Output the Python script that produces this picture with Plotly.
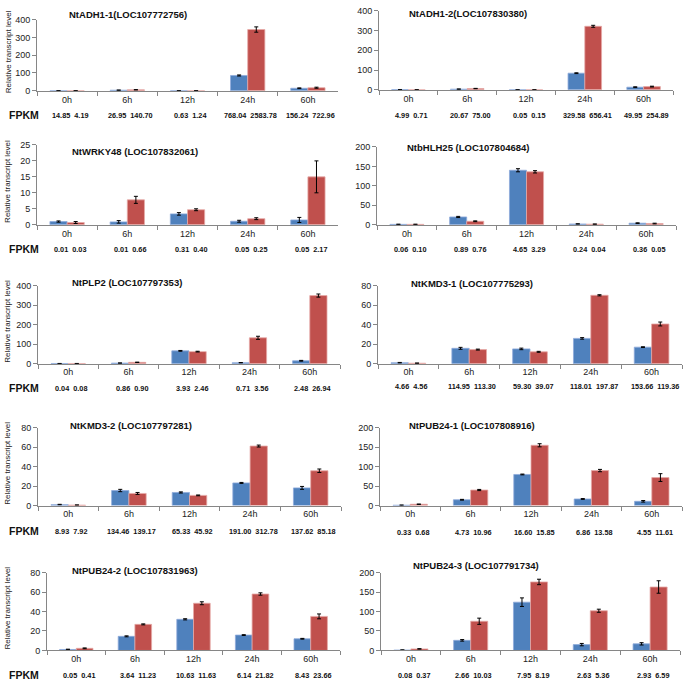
import plotly.graph_objects as go

W, H = 685, 686

times = ["0h", "6h", "12h", "24h", "60h"]

titles = [
    "NtADH1-1(LOC107772756)", "NtADH1-2(LOC107830380)",
    "NtWRKY48 (LOC107832061)", "NtbHLH25 (LOC107804684)",
    "NtPLP2 (LOC107797353)", "NtKMD3-1 (LOC107775293)",
    "NtKMD3-2 (LOC107797281)", "NtPUB24-1 (LOC107808916)",
    "NtPUB24-2 (LOC107831963)", "NtPUB24-3 (LOC107791734)",
]

blue_values = [
    [0.5, 3, 0.3, 86, 14],
    [1, 3, 0.2, 84, 13],
    [1.0, 0.9, 3.4, 1.1, 1.5],
    [1, 20, 140, 2, 4],
    [1, 3, 66, 5, 15],
    [1, 15.8, 15.2, 26, 17],
    [1, 15.5, 13.5, 23.3, 18.2],
    [1, 15, 80, 17, 11],
    [1, 14.5, 32, 15.8, 12],
    [1, 26, 124, 15, 17],
]
red_values = [
    [0.5, 5, 0.5, 345, 17],
    [0.5, 6, 0.3, 322, 16],
    [0.7, 7.8, 4.7, 1.9, 15],
    [1, 9, 136, 1.5, 3],
    [1, 7, 62, 133, 350],
    [0.5, 14.5, 12.2, 70.3, 40.8],
    [0.5, 12.5, 10.5, 61.2, 35.8],
    [3.5, 40, 155, 90, 72],
    [2.2, 26.8, 48.5, 58, 35],
    [4, 75, 176, 102, 163],
]
blue_errors = [
    [0.3, 1, 0.2, 3, 2],
    [0.3, 1, 0.1, 2, 2],
    [0.2, 0.4, 0.4, 0.3, 0.8],
    [0.5, 1.5, 4, 0.5, 1],
    [0.3, 1, 2, 1, 2],
    [0.3, 1, 0.8, 0.8, 0.4],
    [0.3, 1.2, 0.6, 0.5, 1.5],
    [0.5, 1, 1, 1, 2],
    [0.3, 0.5, 0.6, 0.4, 0.4],
    [0.5, 2, 11, 3, 3],
]
red_errors = [
    [0.3, 1, 0.2, 15, 3],
    [0.3, 1, 0.1, 5, 2],
    [0.3, 1.1, 0.3, 0.3, 5],
    [0.5, 1, 3, 0.5, 1],
    [0.3, 1, 2, 8, 8],
    [0.2, 0.5, 0.5, 0.6, 2],
    [0.2, 1, 0.4, 1, 1.8],
    [0.5, 1.5, 4, 3, 10],
    [0.4, 0.5, 1.5, 1.2, 2.5],
    [0.5, 8, 7, 4, 16],
]
fpkm_blue = [
    ["14.85", "26.95", "0.63", "768.04", "156.24"],
    ["4.99", "20.67", "0.05", "329.58", "49.95"],
    ["0.01", "0.01", "0.31", "0.05", "0.05"],
    ["0.06", "0.89", "4.65", "0.24", "0.36"],
    ["0.04", "0.86", "3.93", "0.71", "2.48"],
    ["4.66", "114.95", "59.30", "118.01", "153.66"],
    ["8.93", "134.46", "65.33", "191.00", "137.62"],
    ["0.33", "4.73", "16.60", "6.86", "4.55"],
    ["0.05", "3.64", "10.63", "6.14", "8.43"],
    ["0.08", "2.66", "7.95", "2.63", "2.93"],
]
fpkm_red = [
    ["4.19", "140.70", "1.24", "2583.78", "722.96"],
    ["0.71", "75.00", "0.15", "656.41", "254.89"],
    ["0.03", "0.66", "0.40", "0.25", "2.17"],
    ["0.10", "0.76", "3.29", "0.04", "0.05"],
    ["0.08", "0.90", "2.46", "3.56", "26.94"],
    ["4.56", "113.30", "39.07", "197.87", "119.36"],
    ["7.92", "139.17", "45.92", "312.78", "85.18"],
    ["0.68", "10.96", "15.85", "13.58", "11.61"],
    ["0.41", "11.23", "11.63", "21.82", "23.66"],
    ["0.37", "10.03", "8.19", "5.36", "6.59"],
]
y_max = [400, 400, 25, 200, 400, 80, 80, 200, 80, 200]
y_step = [100, 100, 5, 50, 100, 20, 20, 50, 20, 50]

# layout in pixels (x0, x1, ytop, ybottom)
boxes = [(37, 338, 15, 87), (379, 673, 6, 86), (37, 338, 142, 223), (377, 676, 144, 223),
         (38, 340, 285, 364), (378, 682, 285, 364), (38, 341, 429, 508), (380, 682, 429, 508),
         (47, 340, 576, 655), (381, 680, 576, 655)]
title_pos = [(128, 10), (468, 9), (135, 149), (468, 145), (127, 282), (472, 283),
             (131, 427), (472, 427), (135, 574), (476, 569)]
fpkm_y = [112, 112, 248, 248, 389, 387, 534, 535, 680, 680]

BLUE = "#4F81BD"
RED = "#C0504D"
FONT = "Liberation Sans, Arial, sans-serif"
AXC = "#868686"

fig = go.Figure()
annotations = []
layout = {}

for i in range(10):
    n = "" if i == 0 else str(i + 1)
    xa, ya = "x" + n, "y" + n
    x0, x1, yt, yb = boxes[i]
    for vals, errs, col, lc in ((blue_values[i], blue_errors[i], BLUE, "#8EAADB"),
                                (red_values[i], red_errors[i], RED, "#E6A9A7")):
        fig.add_trace(go.Bar(
            x=times, y=vals, xaxis=xa, yaxis=ya, marker_color=col,
            marker_line=dict(color=lc, width=0.8),
            error_y=dict(type="data", array=errs, color="black", thickness=1, width=2),
            showlegend=False))
    layout["xaxis" + n] = dict(
        domain=[x0 / W, x1 / W], anchor=ya, type="category",
        showline=True, linecolor=AXC, linewidth=1, ticks="outside", tickson="boundaries",
        ticklen=4, tickcolor=AXC, showgrid=False, zeroline=False,
        tickfont=dict(family=FONT, size=9, color="#222"))
    layout["yaxis" + n] = dict(
        domain=[1 - yb / H, 1 - yt / H], anchor=xa, range=[0, y_max[i]],
        dtick=y_step[i], showline=True, linecolor=AXC, linewidth=1, ticks="outside",
        ticklen=4, tickcolor=AXC, showgrid=False, zeroline=False,
        tickfont=dict(family=FONT, size=9, color="#222"))
    tx, ty = title_pos[i]
    annotations.append(dict(text="<b>" + titles[i] + "</b>", x=tx / W, y=1 - ty / H,
                            xref="paper", yref="paper", showarrow=False,
                            xanchor="center", yanchor="middle",
                            font=dict(family=FONT, size=9.5, color="#111")))
    for k in range(5):
        annotations.append(dict(
            text="<b>" + fpkm_blue[i][k] + "\u00a0\u00a0" + fpkm_red[i][k] + "</b>",
            x=k + 0.05, y=1 - fpkm_y[i] / H, xref=xa, yref="paper", showarrow=False,
            xanchor="center", yanchor="middle",
            font=dict(family=FONT, size=7.3, color="#111")))
    if i % 2 == 0:
        annotations.append(dict(text="<b>FPKM</b>", x=24 / W, y=1 - fpkm_y[i] / H,
                                xref="paper", yref="paper", showarrow=False,
                                xanchor="center", yanchor="middle",
                                font=dict(family=FONT, size=10.5, color="#111")))
        annotations.append(dict(text="Relative transcript level", x=8 / W,
                                y=1 - ((yt + yb) / 2 - 3) / H,
                                xref="paper", yref="paper", showarrow=False, textangle=-90,
                                xanchor="center", yanchor="middle",
                                font=dict(family=FONT, size=8, color="#222")))

fig.update_layout(
    width=W, height=H, margin=dict(l=0, r=0, t=0, b=0),
    paper_bgcolor="white", plot_bgcolor="white",
    barmode="group", bargap=0.43, bargroupgap=0,
    annotations=annotations, **layout)

fig.write_html("out.html", config={"displayModeBar": False},
               post_script="document.body.style.margin='0';document.body.style.overflow='hidden';")
